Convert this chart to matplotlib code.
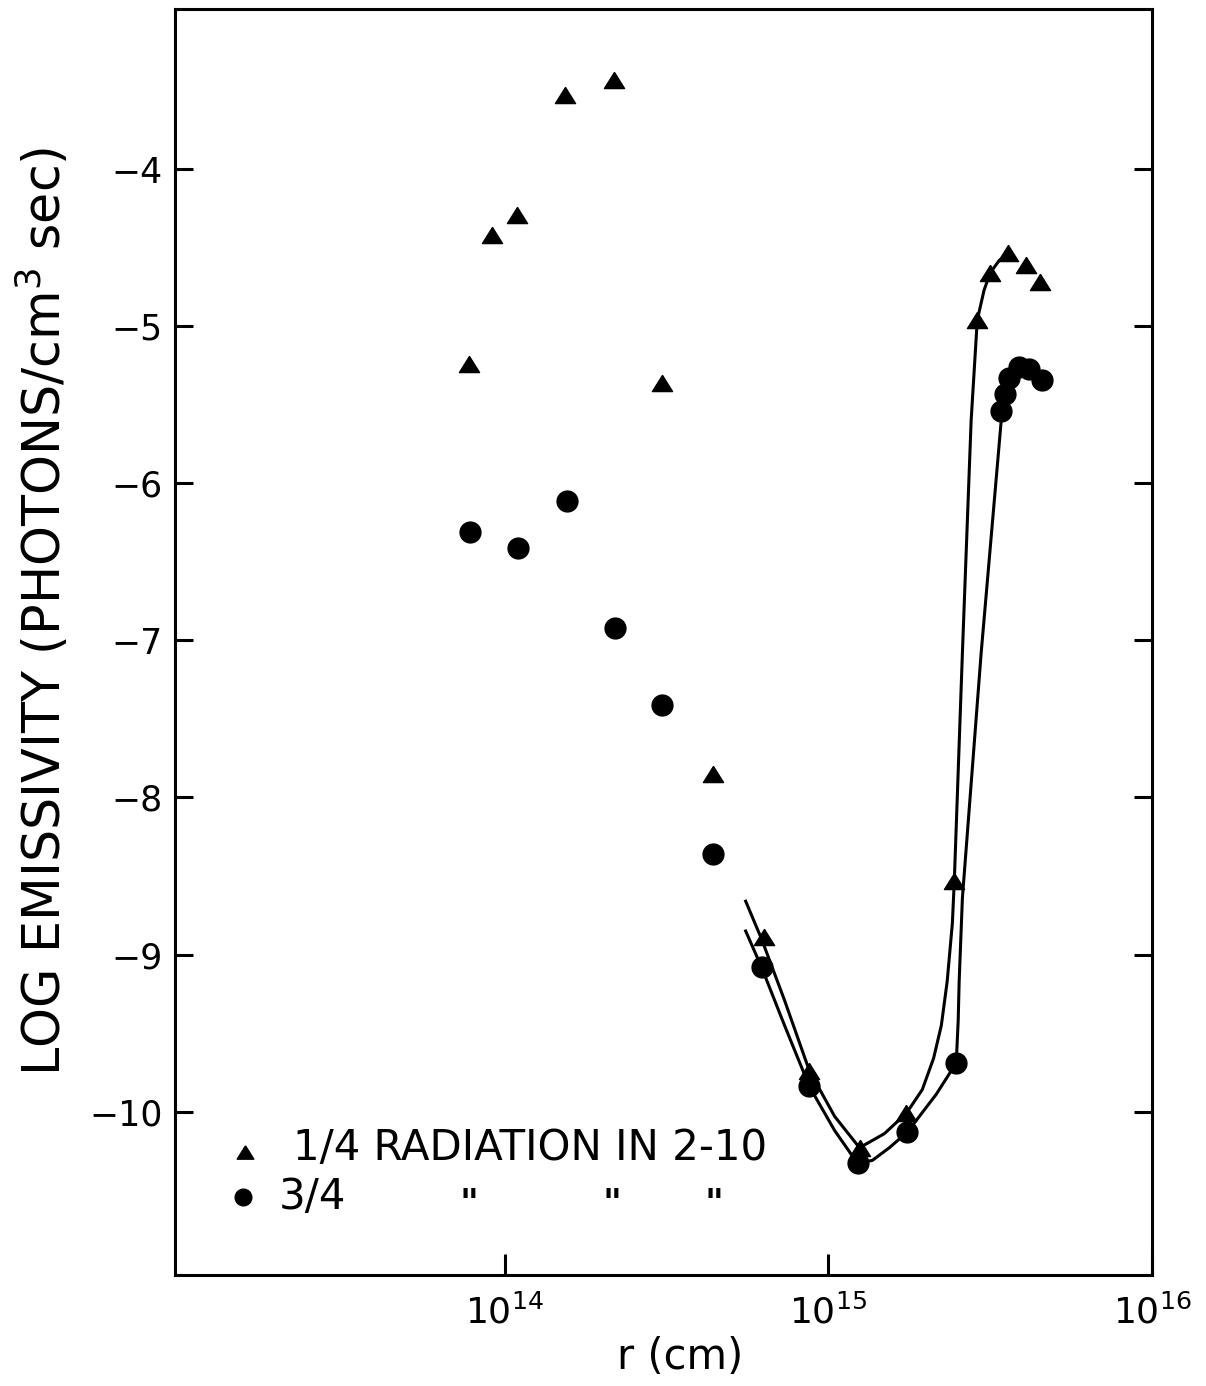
import matplotlib
matplotlib.use("Agg")
import matplotlib.pyplot as plt
import numpy as np
from matplotlib.ticker import NullLocator

# data: x = log10 r (cm), y = log emissivity
# 1/4 of radiation in 2-10 keV (triangles)
tri_logr = [13.889, 13.960, 14.037, 14.185, 14.336, 14.485, 14.642, 14.802,
            14.941, 15.096, 15.241, 15.389, 15.460, 15.500, 15.556, 15.611, 15.654]
tri_logem = [-5.24, -4.42, -4.29, -3.53, -3.43, -5.36, -7.85, -8.89,
             -9.74, -10.23, -10.01, -8.53, -4.96, -4.66, -4.535, -4.61, -4.72]

# 3/4 of radiation in 2-10 keV (circles)
circ_logr = [13.892, 14.040, 14.191, 14.340, 14.485, 14.642, 14.793, 14.941,
             15.090, 15.244, 15.395, 15.534, 15.546, 15.559, 15.590, 15.620, 15.660]
circ_logem = [-6.31, -6.41, -6.11, -6.92, -7.41, -8.36, -9.08, -9.84,
              -10.33, -10.13, -9.69, -5.54, -5.43, -5.33, -5.26, -5.27, -5.34]

# hand-drawn curves through the outer points
tri_curve_logr = [14.744, 14.793, 14.864, 14.941, 15.019, 15.096, 15.173, 15.241,
                  15.290, 15.325, 15.349, 15.367, 15.383, 15.389, 15.414, 15.441,
                  15.460, 15.481, 15.500, 15.528, 15.556]
tri_curve_logem = [-8.66, -8.90, -9.29, -9.74, -10.03, -10.23, -10.14, -10.01,
                   -9.86, -9.66, -9.45, -9.17, -8.80, -8.53, -7.08, -5.60,
                   -4.96, -4.77, -4.66, -4.58, -4.535]

circ_curve_logr = [14.744, 14.793, 14.864, 14.941, 15.019, 15.090, 15.136, 15.188,
                   15.244, 15.333, 15.395, 15.401, 15.404, 15.414, 15.472, 15.534, 15.537]
circ_curve_logem = [-8.85, -9.08, -9.45, -9.84, -10.12, -10.33, -10.31, -10.23,
                    -10.13, -9.89, -9.69, -9.42, -9.17, -8.64, -7.08, -5.60, -5.535]

y_ticks = [-4, -5, -6, -7, -8, -9, -10]
y_tick_labels = ["\u22124", "\u22125", "\u22126", "\u22127", "\u22128", "\u22129", "\u221210"]
x_ticks = [1e14, 1e15, 1e16]
x_tick_labels = [r"$10^{14}$", r"$10^{15}$", r"$10^{16}$"]

plt.rcParams["font.family"] = ["DejaVu Sans"]

# squat triangle like the original symbols
tri_marker = [(0, 0.8), (-1, -0.8), (1, -0.8), (0, 0.8)]

fig = plt.figure(figsize=(12.06, 13.86), dpi=100)
ax = fig.add_axes([0.1451, 0.0801, 0.8101, 0.9134])

r_tri = 10 ** np.array(tri_logr)
r_circ = 10 ** np.array(circ_logr)

ax.plot(10 ** np.array(tri_curve_logr), tri_curve_logem, color="black", lw=2.2)
ax.plot(10 ** np.array(circ_curve_logr), circ_curve_logem, color="black", lw=2.2)
ax.plot(r_tri, tri_logem, linestyle="none", marker=tri_marker, ms=14.5, color="black")
ax.plot(r_circ, circ_logem, linestyle="none", marker="o", ms=15, color="black")

ax.set_xscale("log")
ax.set_xlim(10 ** 12.98, 1e16)
ax.set_ylim(-11.04, -2.98)

ax.set_xticks(x_ticks, labels=x_tick_labels)
ax.xaxis.set_minor_locator(NullLocator())
ax.set_yticks(y_ticks, labels=y_tick_labels)

ax.tick_params(axis="x", direction="in", length=15, width=2.2, labelsize=26, pad=14, top=False)
ax.tick_params(axis="y", direction="in", length=13, width=2.2, labelsize=25, pad=9,
               left=True, right=True)
for sp in ax.spines.values():
    sp.set_linewidth(2.2)

ax.set_ylabel(r"LOG EMISSIVITY (PHOTONS/cm$^3$ sec)", fontsize=36.5, labelpad=12)
ax.yaxis.label.set_y(0.524)
ax.set_xlabel("r (cm)", fontsize=30, labelpad=4)
ax.xaxis.label.set_x(0.517)

# hand lettered key in the lower left
ax.plot([0.0717], [0.097], transform=ax.transAxes, marker=tri_marker, ms=12,
        color="black", linestyle="none")
ax.text(0.1208, 0.1005, "1/4 RADIATION IN 2-10", transform=ax.transAxes,
        fontsize=30.2, va="center", ha="left")
ax.plot([0.0696], [0.0616], transform=ax.transAxes, marker="o", ms=12,
        color="black", linestyle="none")
ax.text(0.1064, 0.0616, "3/4", transform=ax.transAxes, fontsize=30.2,
        va="center", ha="left")
for xq in [0.301, 0.447, 0.552]:
    ax.text(xq, 0.056, '"', transform=ax.transAxes, fontsize=26,
            fontweight="bold", va="center", ha="center")

fig.savefig("out.png", dpi=100)
